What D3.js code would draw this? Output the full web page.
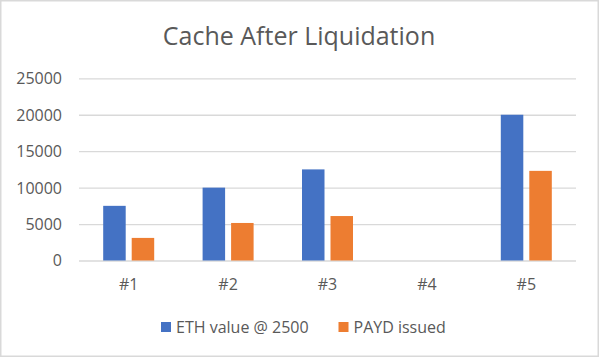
<!DOCTYPE html>
<html>
<head>
<meta charset="utf-8">
<script src="https://cdn.jsdelivr.net/npm/d3@7"></script>
<style>
  html, body { margin: 0; padding: 0; background: #fff; }
  svg { display: block; font-family: "Open Sans", "Noto Sans", sans-serif; }
</style>
</head>
<body>
<svg id="chart" width="600" height="358"></svg>
<script>
const title = "Cache After Liquidation";
const categories = ["#1", "#2", "#3", "#4", "#5"];
const seriesNames = ["ETH value @ 2500", "PAYD issued"];
const ethValues = [7500, 10000, 12500, null, 20000];
const paydValues = [3100, 5150, 6100, null, 12300];
const yTicks = [0, 5000, 10000, 15000, 20000, 25000];
const colors = ["#4472C4", "#ED7D31"];

const svg = d3.select("#chart");
const W = 600, H = 358;
const plot = { left: 79, right: 576, top: 78.3, bottom: 260.5 };

// chart border
svg.append("rect")
  .attr("x", 0.75).attr("y", 0.75)
  .attr("width", W - 2.5).attr("height", H - 2.5)
  .attr("fill", "#fff").attr("stroke", "#d9d9d9").attr("stroke-width", 1.5);

// title
svg.append("text")
  .attr("x", 299).attr("y", 45)
  .attr("text-anchor", "middle")
  .attr("font-size", 25).attr("fill", "#595959")
  .text(title);

const y = d3.scaleLinear().domain([0, 25000]).range([plot.bottom, plot.top]);
const x0 = d3.scaleBand().domain(categories).range([plot.left, plot.right]).padding(0);
const groupW = 51;
const bw = x0.bandwidth();
const x1 = d3.scaleBand().domain(seriesNames)
  .range([(bw - groupW) / 2, (bw + groupW) / 2])
  .paddingInner(6 / 28.5).paddingOuter(0);

// gridlines
const yAxis = d3.axisLeft(y).tickValues(yTicks).tickSize(-(plot.right - plot.left)).tickPadding(17).tickFormat(d3.format("d"));
const gy = svg.append("g").attr("transform", `translate(${plot.left},0)`).call(yAxis);
gy.select(".domain").remove();
gy.selectAll(".tick line").attr("stroke", "#d9d9d9").attr("stroke-width", 1.3);
gy.selectAll(".tick text")
  .attr("font-size", 16).attr("fill", "#595959")
  .attr("font-family", "'Open Sans', 'Noto Sans', sans-serif")
  .attr("dy", "0.34em");

// bars
const data = categories.map((c, i) => ({ cat: c, vals: [ethValues[i], paydValues[i]] }));
const groups = svg.append("g").selectAll("g").data(data).join("g")
  .attr("transform", d => `translate(${x0(d.cat)},0)`);
groups.selectAll("rect")
  .data(d => d.vals.map((v, j) => ({ name: seriesNames[j], v, j })).filter(e => e.v != null && e.v > 0))
  .join("rect")
  .attr("x", e => x1(e.name))
  .attr("width", x1.bandwidth())
  .attr("y", e => y(e.v))
  .attr("height", e => y(0) - y(e.v))
  .attr("fill", e => colors[e.j]);

// x axis labels
const xAxis = d3.axisBottom(x0).tickSize(0).tickPadding(18);
const gx = svg.append("g").attr("transform", `translate(0,${plot.bottom})`).call(xAxis);
gx.select(".domain").remove();
gx.selectAll(".tick text")
  .attr("font-size", 16).attr("fill", "#595959")
  .attr("font-family", "'Open Sans', 'Noto Sans', sans-serif");

// legend
const legendItems = [
  { name: seriesNames[0], color: colors[0], sx: 161, tx: 176 },
  { name: seriesNames[1], color: colors[1], sx: 338.5, tx: 353.5 }
];
const lg = svg.append("g");
legendItems.forEach(it => {
  lg.append("rect").attr("x", it.sx).attr("y", 322).attr("width", 10).attr("height", 10).attr("fill", it.color);
  lg.append("text").attr("x", it.tx).attr("y", 332.5)
    .attr("font-size", 16).attr("fill", "#595959").text(it.name);
});
</script>
</body>
</html>
